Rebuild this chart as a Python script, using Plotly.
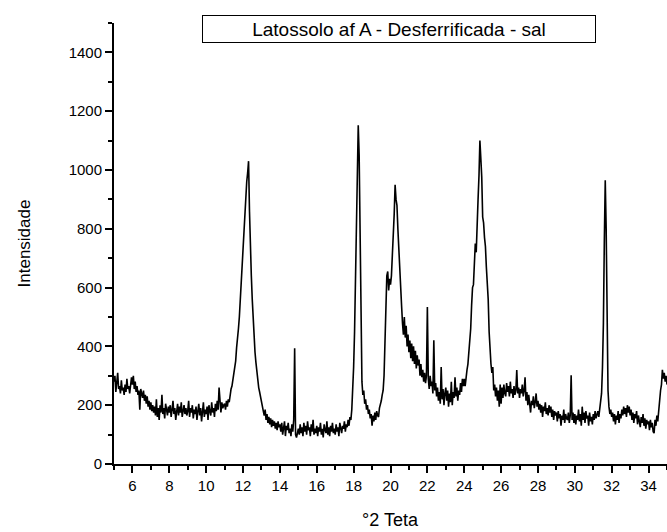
import numpy as np
import plotly.graph_objects as go

# --- data (step 0.05 °2θ, 5 -> 35) ---
two_theta = np.round(np.linspace(5, 35, 601), 2)

intensity = [
    # 5.00 - 5.95
    280, 300, 245, 275, 310, 255, 265, 240, 285, 250, 260, 235, 270, 245, 290, 255, 265, 240, 280, 295,
    # 6.00 - 6.95
    270, 300, 255, 280, 245, 265, 235, 250, 185, 255, 240, 225, 250, 215, 235, 205, 230, 195, 215, 185,
    # 7.00 - 7.95
    210, 180, 200, 175, 195, 165, 220, 160, 190, 150, 200, 175, 235, 170, 190, 155, 205, 180, 165, 195,
    # 8.00 - 8.95
    175, 200, 160, 185, 215, 170, 190, 150, 180, 205, 165, 195, 175, 210, 160, 185, 200, 170, 190, 165,
    # 9.00 - 9.95
    180, 215, 160, 190, 175, 200, 155, 185, 170, 195, 150, 180, 205, 165, 190, 145, 175, 210, 160, 185,
    # 10.00 - 10.95
    170, 195, 150, 200, 180, 165, 210, 175, 190, 160, 205, 180, 215, 185, 260, 195, 175, 210, 190, 200,
    # 11.00 - 11.95
    205, 185, 215, 195, 220, 210, 240, 255, 265, 290, 300, 320, 350, 395, 420, 460, 500, 560, 600, 660,
    # 12.00 - 12.95
    720, 800, 880, 940, 960, 990, 1030, 860, 720, 640, 560, 490, 430, 380, 345, 310, 280, 260, 245, 225,
    # 13.00 - 13.95
    215, 190, 180, 165, 185, 150, 170, 140, 160, 135, 155, 125, 150, 130, 145, 120, 140, 115, 145, 125,
    # 14.00 - 14.95
    135, 110, 140, 100, 125, 145, 95, 130, 115, 140, 105, 120, 95, 135, 110, 150, 394, 100, 90, 115,
    # 15.00 - 15.95
    120, 100, 135, 105, 125, 95, 140, 110, 130, 100, 145, 115, 125, 95, 135, 110, 150, 100, 120, 105,
    # 16.00 - 16.95
    130, 95, 125, 110, 140, 100, 120, 90, 135, 115, 105, 145, 100, 125, 95, 130, 110, 140, 105, 120,
    # 17.00 - 17.95
    100, 135, 110, 125, 95, 140, 115, 105, 130, 120, 145, 110, 135, 125, 150, 130, 160, 150, 185, 240,
    # 18.00 - 18.95
    330, 450, 620, 820, 1000, 1152, 1050, 700, 420, 280, 235, 250, 205, 220, 185, 200, 170, 185, 155, 170,
    # 19.00 - 19.95
    130, 165, 145, 175, 150, 180, 165, 160, 190, 200, 215, 235, 250, 300, 400, 510, 640, 655, 590, 630,
    # 20.00 - 20.95
    610, 640, 690, 780, 850, 950, 900, 880, 800, 720, 660, 620, 540, 480, 440, 500, 430, 470, 400, 440,
    # 21.00 - 21.95
    380, 420, 360, 410, 350, 400, 340, 385, 325, 370, 335, 355, 300, 340, 295, 320, 280, 310, 275, 300,
    # 22.00 - 22.95
    534, 290, 255, 300, 265, 280, 240, 421, 250, 275, 230, 260, 215, 245, 205, 330, 220, 255, 200, 240,
    # 23.00 - 23.95
    260, 215, 250, 195, 240, 210, 280, 200, 245, 225, 295, 230, 260, 215, 250, 235, 275, 245, 290, 265,
    # 24.00 - 24.95
    290, 265, 300, 320, 340, 380, 430, 460, 540, 600, 610, 690, 750, 720, 850, 900, 980, 1100, 1040, 976,
    # 25.00 - 25.95
    840, 820, 770, 740, 670, 620, 560, 450, 380, 340, 310, 330, 250, 270, 230, 260, 215, 250, 195, 270,
    # 26.00 - 26.95
    205, 260, 225, 270, 240, 230, 275, 245, 265, 230, 280, 240, 255, 225, 265, 235, 250, 320, 240, 260,
    # 27.00 - 27.95
    225, 255, 240, 270, 230, 250, 295, 215, 245, 200, 235, 210, 175, 215, 200, 230, 190, 210, 240, 195,
    # 28.00 - 28.95
    215, 185, 205, 175, 200, 160, 195, 180, 210, 170, 190, 165, 200, 175, 195, 160, 185, 150, 180, 165,
    # 29.00 - 29.95
    175, 145, 180, 155, 170, 130, 165, 150, 185, 140, 170, 155, 150, 175, 140, 165, 302, 150, 175, 140,
    # 30.00 - 30.95
    170, 135, 165, 150, 185, 145, 170, 130, 195, 150, 175, 140, 180, 155, 165, 130, 175, 145, 160, 135,
    # 31.00 - 31.95
    170, 150, 180, 155, 165, 180, 160, 185, 200, 240, 330, 480, 760, 965, 800, 480, 250, 195, 170, 185,
    # 32.00 - 32.95
    160, 175, 145, 170, 135, 165, 150, 180, 140, 170, 155, 185, 165, 195, 170, 190, 160, 200, 175, 195,
    # 33.00 - 33.95
    165, 185, 150, 175, 140, 170, 155, 180, 135, 165, 150, 125, 160, 140, 170, 130, 155, 120, 150, 135,
    # 34.00 - 34.95
    145, 115, 150, 125, 140, 110, 105, 150, 130, 165, 145, 185, 200, 250, 270, 320, 290, 310, 280, 300,
    # 35.00
    270,
]

title_text = "Latossolo af A - Desferrificada - sal"
x_title = "°2 Teta"
y_title = "Intensidade"

FONT = "Liberation Sans, Arial, sans-serif"

fig = go.Figure()
fig.add_trace(go.Scatter(
    x=two_theta, y=intensity, mode="lines",
    line=dict(color="black", width=1.6), showlegend=False,
))

axis_common = dict(
    showline=True, linecolor="black", linewidth=2,
    ticks="outside", ticklen=7, tickwidth=2, tickcolor="black",
    showgrid=False, zeroline=False, mirror=False,
    tickfont=dict(family=FONT, size=15, color="black"),
)

fig.update_xaxes(
    range=[5, 35], tick0=6, dtick=2,
    minor=dict(ticks="outside", ticklen=4, tickwidth=2, tickcolor="black", dtick=1, tick0=5),
    **axis_common,
)
fig.update_yaxes(
    range=[0, 1500], tick0=0, dtick=200,
    minor=dict(ticks="outside", ticklen=4, tickwidth=2, tickcolor="black", dtick=100, tick0=0),
    **axis_common,
)

fig.update_layout(
    width=667, height=532,
    margin=dict(l=114, r=0, t=23, b=68),
    plot_bgcolor="white", paper_bgcolor="white",
    annotations=[
        dict(text=title_text, xref="paper", yref="paper", x=0.515, y=0.986,
             xanchor="center", yanchor="middle", showarrow=False,
             width=388, height=22, borderpad=2, bordercolor="black", borderwidth=1,
             bgcolor="white", font=dict(family=FONT, size=19, color="black")),
        dict(text=x_title, xref="paper", yref="paper", x=0.5, y=-0.127,
             xanchor="center", yanchor="middle", showarrow=False,
             font=dict(family=FONT, size=18, color="black")),
        dict(text=y_title, xref="paper", yref="paper", x=-0.161, y=0.5,
             xanchor="center", yanchor="middle", showarrow=False, textangle=-90,
             font=dict(family=FONT, size=17, color="black")),
    ],
)

# drop the default 8px body margin so the 667x532 figure fills the window exactly
fig.write_html(
    "out.html",
    config={"displayModeBar": False},
    post_script="document.body.style.margin='0';document.body.style.overflow='hidden';",
)
